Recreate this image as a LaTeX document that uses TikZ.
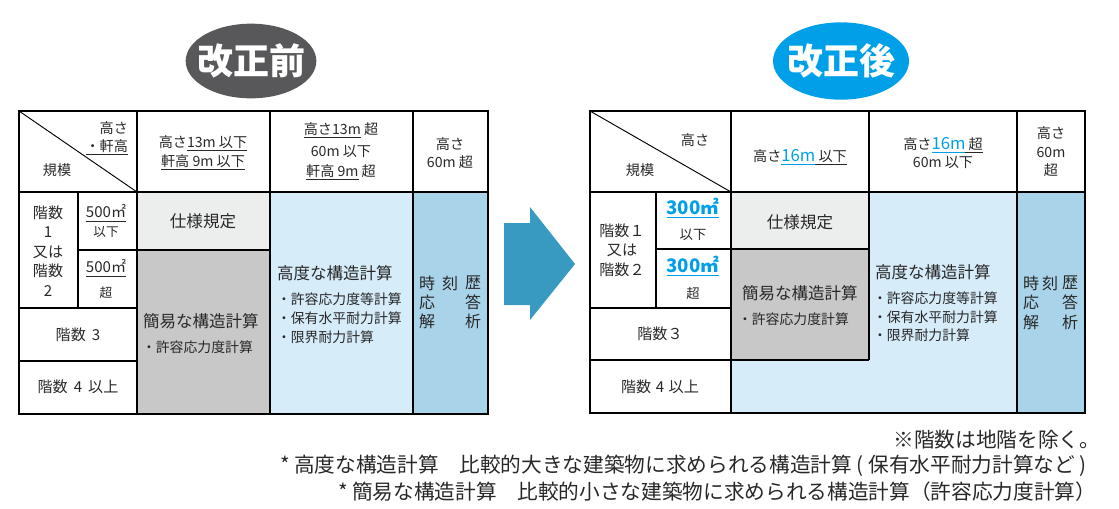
\documentclass[tikz,border=0pt]{standalone}
\usepackage{fontspec}
\setmainfont{Noto Sans CJK JP}
\usetikzlibrary{shapes.geometric}
\definecolor{txt}{RGB}{40,40,40}
\definecolor{eL}{RGB}{88,87,89}
\definecolor{eR}{RGB}{0,160,233}
\definecolor{jblue}{RGB}{0,160,233}
\definecolor{cLG}{RGB}{236,238,237}
\definecolor{cG}{RGB}{200,200,200}
\definecolor{cLB}{RGB}{214,236,249}
\definecolor{cMB}{RGB}{169,211,233}
\definecolor{arr}{RGB}{56,154,192}
\newsavebox\ulbox
\newcommand\ulx[2][2.2pt]{\sbox\ulbox{#2}\rlap{\rule[-#1]{\wd\ulbox}{0.6pt}}\usebox\ulbox}
\begin{document}
\begin{tikzpicture}[x=0.75pt,y=-0.75pt,
  every node/.style={inner sep=0pt, outer sep=0pt, text=txt},
  hdr/.style={font=\fontsize{10.6pt}{13pt}\selectfont},
  body/.style={font=\fontsize{12.4pt}{15pt}\selectfont},
  subt/.style={font=\fontsize{10.4pt}{13pt}\selectfont},
  rowt/.style={font=\fontsize{11.3pt}{14.6pt}\selectfont},
  small/.style={font=\fontsize{9.5pt}{12pt}\selectfont},
  jik/.style={font=\fontsize{12pt}{14pt}\selectfont},
  foot/.style={font=\fontsize{15.5pt}{18pt}\selectfont},
  title/.style={text=white, font=\fontsize{27pt}{30pt}\selectfont\bfseries},
  grid/.style={draw=black, line width=0.8pt},
  diag/.style={draw=black, line width=0.7pt}]
\useasboundingbox (0,0) rectangle (1119,508);

% titles
\fill[eL] (251,61) ellipse [x radius=49pt, y radius=28pt];
\node[title] (before) at (251,61) {改正前};
\fill[eR] (841,61) ellipse [x radius=51pt, y radius=29pt];
\node[title] (after) at (841,61) {改正後};

% arrow
\fill[arr] (504,223) -- (530,223) -- (530,207) -- (575,264) -- (530,320) -- (530,305) -- (504,305) -- cycle;

% ---------- left table ----------
\fill[cLG] (137,192) rectangle (270,250);
\fill[cG] (137,250) rectangle (270,414);
\fill[cLB] (270,192) rectangle (413,414);
\fill[cMB] (413,192) rectangle (488,414);
\draw[grid] (19,111) rectangle (488,414);
\draw[grid] (19,192) -- (488,192);
\draw[grid] (137,111) -- (137,414);
\draw[grid] (270,111) -- (270,414);
\draw[grid] (413,111) -- (413,414);
\draw[grid] (78,192) -- (78,308);
\draw[grid] (78,250) -- (270,250);
\draw[grid] (19,308) -- (137,308);
\draw[grid] (19,361) -- (137,361);
\draw[diag] (19,111) -- (137,192);

\node[hdr, anchor=east] (lh1) at (128,128) {高さ};
\node[hdr, anchor=east] (lh2) at (128,147) {\ulx{・軒高}};
\node[hdr] (lh3) at (57,170) {規模};
\node[hdr] (lc2a) at (203,143) {高さ\ulx{13m 以下}};
\node[hdr] (lc2b) at (203,162) {\ulx{軒高 9m 以下}};
\node[hdr] (lc3a) at (341,130) {\ulx{高さ13m} 超};
\node[hdr] (lc3b) at (341,152) {60m 以下};
\node[hdr] (lc3c) at (341,172) {\ulx{軒高 9m} 超};
\node[hdr] (lc4a) at (450,144) {高さ};
\node[hdr] (lc4b) at (450,162) {60m 超};

\node[rowt, align=center] (lr1) at (48,251) {階数\\1\\又は\\階数\\2};
\node[rowt] (la1) at (106,213) {\ulx[3pt]{500㎡}};
\node[small] (la2) at (106,232) {以下};
\node[rowt] (la3) at (106,268) {\ulx[3pt]{500㎡}};
\node[small] (la4) at (106,293) {超};
\node[rowt] (l3) at (78,335) {階数\hspace{0.4em}3};
\node[rowt] (l4) at (78,387) {階数\hspace{0.4em}4\hspace{0.4em}以上};

\node[body] (ls) at (203,221) {仕様規定};
\node[body, anchor=west] (lk1) at (143,321) {簡易な構造計算};
\node[subt, anchor=west] (lk2) at (142,347) {・許容応力度計算};
\node[body, anchor=west] (lq) at (277,273) {高度な構造計算};
\node[subt, anchor=west] (lq1) at (277,299) {・許容応力度等計算};
\node[subt, anchor=west] (lq2) at (277,318) {・保有水平耐力計算};
\node[subt, anchor=west] (lq3) at (277,337) {・限界耐力計算};

\node[jik] (lj1) at (427,283) {時};
\node[jik] (lj2) at (450,283) {刻};
\node[jik] (lj3) at (473,283) {歴};
\node[jik] (lj4) at (427,302) {応};
\node[jik] (lj5) at (473,302) {答};
\node[jik] (lj6) at (427,321) {解};
\node[jik] (lj7) at (473,321) {析};

% ---------- right table ----------
\fill[cLG] (731,192) rectangle (869,249);
\fill[cG] (731,249) rectangle (869,360);
\fill[cLB] (869,192) rectangle (1017,413);
\fill[cLB] (731,360) rectangle (869,413);
\fill[cMB] (1017,192) rectangle (1085,413);
\draw[grid] (590,111) rectangle (1085,413);
\draw[grid] (590,192) -- (1085,192);
\draw[grid] (656,192) -- (656,308);
\draw[grid] (731,111) -- (731,413);
\draw[grid] (869,111) -- (869,360);
\draw[grid] (1017,111) -- (1017,413);
\draw[grid] (656,249) -- (869,249);
\draw[grid] (590,308) -- (731,308);
\draw[grid] (590,360) -- (869,360);
\draw[diag] (590,111) -- (731,192);

\node[hdr] (rh1) at (695,140) {高さ};
\node[hdr] (rh2) at (640,170) {規模};
\node[hdr] (rc2) at (800,157) {高さ\textcolor{jblue}{\ulx{\fontsize{12.5pt}{14pt}\selectfont 16m}}\ulx{ 以下}};
\node[hdr] (rc3a) at (943,145) {高さ\textcolor{jblue}{\ulx{\fontsize{12.5pt}{14pt}\selectfont 16m}}\ulx{ 超}};
\node[hdr] (rc3b) at (943,163) {60m 以下};
\node[hdr] (rc4a) at (1051,133) {高さ};
\node[hdr] (rc4b) at (1051,152) {60m};
\node[hdr] (rc4c) at (1051,170) {超};

\node[rowt, align=center] (rr1) at (622,250) {階数１\\又は\\階数２};
\node[font=\fontsize{14pt}{16pt}\selectfont\bfseries, text=jblue] (ra1) at (693,208) {\ulx[3pt]{300㎡}};
\node[font=\fontsize{10pt}{12pt}\selectfont] (ra2) at (693,235) {以下};
\node[font=\fontsize{14pt}{16pt}\selectfont\bfseries, text=jblue] (ra3) at (693,266) {\ulx[3pt]{300㎡}};
\node[font=\fontsize{10pt}{12pt}\selectfont] (ra4) at (693,293) {超};
\node[rowt] (r3) at (660,334) {階数３};
\node[rowt] (r4) at (660,387) {階数\hspace{0.3em}4\hspace{0.3em}以上};

\node[body] (rs) at (800,222) {仕様規定};
\node[body, anchor=west] (rk1) at (742,293) {簡易な構造計算};
\node[subt, anchor=west] (rk2) at (738,319) {・許容応力度計算};
\node[body, anchor=west] (rq) at (875,272) {高度な構造計算};
\node[subt, anchor=west] (rq1) at (873,298) {・許容応力度等計算};
\node[subt, anchor=west] (rq2) at (873,317) {・保有水平耐力計算};
\node[subt, anchor=west] (rq3) at (873,335) {・限界耐力計算};

\node[jik] (rj1) at (1031,283) {時};
\node[jik] (rj2) at (1050,283) {刻};
\node[jik] (rj3) at (1070,283) {歴};
\node[jik] (rj4) at (1031,302) {応};
\node[jik] (rj5) at (1070,302) {答};
\node[jik] (rj6) at (1031,322) {解};
\node[jik] (rj7) at (1070,322) {析};

% ---------- footnotes ----------
\node[foot, anchor=east] (f1) at (1100,440) {※階数は地階を除く。};
\node[foot, anchor=west] (f2) at (280,466) {* 高度な構造計算　比較的大きな建築物に求められる構造計算 ( 保有水平耐力計算など )};
\node[foot, anchor=west] (f3) at (338,492) {* 簡易な構造計算　比較的小さな建築物に求められる構造計算（許容応力度計算）};
\end{tikzpicture}
\end{document}
